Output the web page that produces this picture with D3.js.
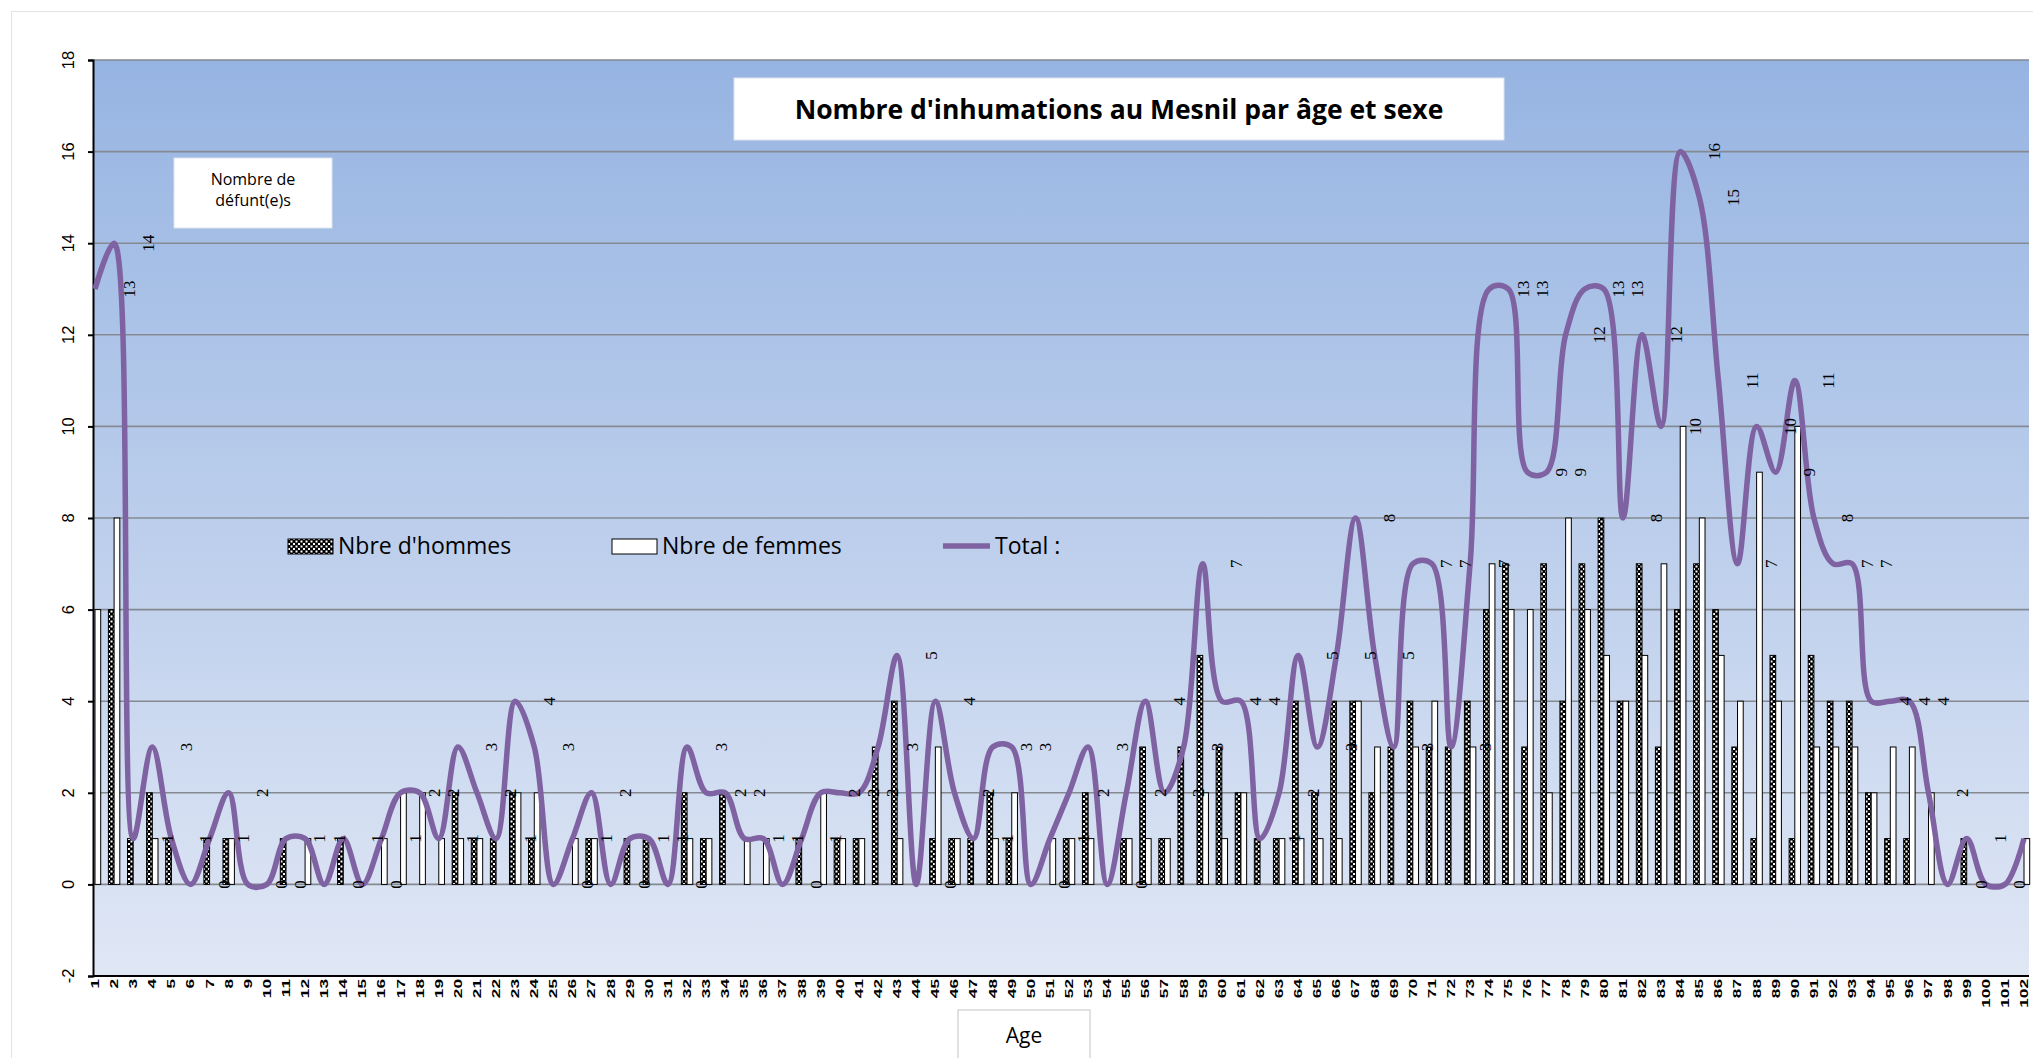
<!DOCTYPE html>
<html>
<head>
<meta charset="utf-8">
<script src="https://cdn.jsdelivr.net/npm/d3@7"></script>
<style>
    body { margin: 0; background: #fff; }
    svg { display: block; }
</style>
</head>
<body>
<div id="chart"></div>
<script>
// ages 1..102
const ages = [1, 2, 3, 4, 5, 6, 7, 8, 9, 10, 11, 12, 13, 14, 15, 16, 17, 18, 19, 20,
    21, 22, 23, 24, 25, 26, 27, 28, 29, 30, 31, 32, 33, 34, 35, 36, 37, 38, 39, 40,
    41, 42, 43, 44, 45, 46, 47, 48, 49, 50, 51, 52, 53, 54, 55, 56, 57, 58, 59, 60,
    61, 62, 63, 64, 65, 66, 67, 68, 69, 70, 71, 72, 73, 74, 75, 76, 77, 78, 79, 80,
    81, 82, 83, 84, 85, 86, 87, 88, 89, 90, 91, 92, 93, 94, 95, 96, 97, 98, 99, 100,
    101, 102];

const hommes = [0, 6, 1, 2, 1, 0, 1, 1, 0, 0,
    1, 0, 0, 1, 0, 0, 0, 0, 0, 2,
    1, 1, 2, 1, 0, 0, 1, 0, 1, 1,
    0, 2, 1, 2, 0, 0, 0, 1, 0, 1,
    1, 3, 4, 0, 1, 1, 1, 2, 1, 0,
    0, 1, 2, 0, 1, 3, 1, 3, 5, 3,
    2, 1, 1, 4, 2, 4, 4, 2, 3, 4,
    3, 3, 4, 6, 7, 3, 7, 4, 7, 8,
    4, 7, 3, 6, 7, 6, 3, 1, 5, 1,
    5, 4, 4, 2, 1, 1, 0, 0, 1, 0,
    0, 0];

const femmes = [6, 8, 0, 1, 0, 0, 0, 1, 0, 0,
    0, 1, 0, 0, 0, 1, 2, 2, 1, 1,
    1, 0, 2, 2, 0, 1, 1, 0, 0, 0,
    0, 1, 1, 0, 1, 1, 0, 0, 2, 1,
    1, 0, 1, 0, 3, 1, 0, 1, 2, 0,
    1, 1, 1, 0, 1, 1, 1, 0, 2, 1,
    2, 0, 1, 1, 1, 1, 4, 3, 0, 3,
    4, 0, 3, 7, 6, 6, 2, 8, 6, 5,
    4, 5, 7, 10, 8, 5, 4, 9, 4, 10,
    3, 3, 3, 2, 3, 3, 2, 0, 0, 0,
    0, 1];

const totaux = [13, 14, 1, 3, 1, 0, 1, 2, 0, 0,
    1, 1, 0, 1, 0, 1, 2, 2, 1, 3,
    2, 1, 4, 3, 0, 1, 2, 0, 1, 1,
    0, 3, 2, 2, 1, 1, 0, 1, 2, 2,
    2, 3, 5, 0, 4, 2, 1, 3, 3, 0,
    1, 2, 3, 0, 2, 4, 2, 3, 7, 4,
    4, 1, 2, 5, 3, 5, 8, 5, 3, 7,
    7, 3, 7, 13, 13, 9, 9, 12, 13, 13,
    8, 12, 10, 16, 15, 11, 7, 10, 9, 11,
    8, 7, 7, 4, 4, 4, 2, 0, 1, 0,
    0, 1];

const yTicks = [-2, 0, 2, 4, 6, 8, 10, 12, 14, 16, 18];

const titre = "Nombre d'inhumations au Mesnil par âge et sexe";
const legendLabels = ["Nbre d'hommes", "Nbre de femmes", "Total :"];

const width = 2033;
const height = 1058;
const plot = { left: 93, top: 60, right: 2029, bottom: 976 };
const purple = '#7f62a1';
const barW = 5.7;

const svg = d3.select('#chart').append('svg')
    .attr('width', width)
    .attr('height', height);

const defs = svg.append('defs');
const grad = defs.append('linearGradient')
    .attr('id', 'plotBg')
    .attr('x1', 0).attr('y1', 0).attr('x2', 0).attr('y2', 1);
grad.append('stop').attr('offset', '0%').attr('stop-color', '#96b4e2');
grad.append('stop').attr('offset', '100%').attr('stop-color', '#e0e7f5');

// small checker board, mostly black
const checker = defs.append('pattern')
    .attr('id', 'checker')
    .attr('patternUnits', 'userSpaceOnUse')
    .attr('width', 5).attr('height', 5);
checker.append('rect').attr('width', 5).attr('height', 5).attr('fill', '#000');
checker.append('rect').attr('x', 0.5).attr('y', 0.5).attr('width', 2).attr('height', 2).attr('fill', '#fff');
checker.append('rect').attr('x', 3).attr('y', 3).attr('width', 2).attr('height', 2).attr('fill', '#fff');

// outer chart frame (cut by the picture edges)
svg.append('rect')
    .attr('x', 11.5).attr('y', 11.5)
    .attr('width', 2100).attr('height', 1100)
    .attr('fill', '#fff')
    .attr('stroke', '#e3e3e3');

const x = d3.scalePoint()
    .domain(ages)
    .range([95, 2024]);

const y = d3.scaleLinear()
    .domain([-2, 18])
    .range([plot.bottom, plot.top]);

svg.append('rect')
    .attr('x', plot.left).attr('y', plot.top)
    .attr('width', plot.right - plot.left)
    .attr('height', plot.bottom - plot.top)
    .attr('fill', 'url(#plotBg)');

// grid
svg.append('g')
    .selectAll('line')
    .data(yTicks.filter(d => d > -2))
    .enter().append('line')
    .attr('x1', plot.left).attr('x2', plot.right)
    .attr('y1', d => y(d)).attr('y2', d => y(d))
    .attr('stroke', '#858a92')
    .attr('stroke-width', 1.6);

// y axis
const yAxis = svg.append('g')
    .attr('transform', `translate(${plot.left},0)`)
    .call(d3.axisLeft(y).tickValues(yTicks).tickSize(5).tickFormat(''));
yAxis.select('.domain').attr('stroke', '#000').attr('stroke-width', 2);
yAxis.selectAll('.tick line').attr('stroke', '#000').attr('stroke-width', 2);

svg.append('g')
    .selectAll('text')
    .data(yTicks)
    .enter().append('text')
    .attr('transform', d => `translate(68,${y(d)}) rotate(-90)`)
    .attr('text-anchor', 'middle')
    .attr('dominant-baseline', 'central')
    .style('font', '16.5px "Liberation Sans", Arial, sans-serif')
    .attr('fill', '#000')
    .text(d => d);

// x axis
svg.append('line')
    .attr('x1', plot.left).attr('x2', plot.right)
    .attr('y1', plot.bottom).attr('y2', plot.bottom)
    .attr('stroke', '#000')
    .attr('stroke-width', 2);

svg.append('g')
    .selectAll('text')
    .data(ages)
    .enter().append('text')
    .attr('transform', d => `translate(${x(d)},${plot.bottom + 3}) rotate(-90) scale(1.5,1)`)
    .attr('text-anchor', 'end')
    .attr('dominant-baseline', 'central')
    .style('font', 'bold 11.5px "Liberation Sans", Arial, sans-serif')
    .attr('fill', '#000')
    .text(d => d);

// bars
const bars = svg.append('g');
bars.selectAll('.homme')
    .data(ages.map((a, i) => ({ age: a, v: hommes[i] })).filter(d => d.v > 0))
    .enter().append('rect')
    .attr('class', 'homme')
    .attr('x', d => x(d.age) - barW)
    .attr('y', d => y(d.v))
    .attr('width', barW)
    .attr('height', d => y(0) - y(d.v))
    .attr('fill', 'url(#checker)')
    .attr('stroke', '#000')
    .attr('stroke-width', 1);

bars.selectAll('.femme')
    .data(ages.map((a, i) => ({ age: a, v: femmes[i] })).filter(d => d.v > 0))
    .enter().append('rect')
    .attr('class', 'femme')
    .attr('x', d => x(d.age))
    .attr('y', d => y(d.v))
    .attr('width', barW)
    .attr('height', d => y(0) - y(d.v))
    .attr('fill', '#fff')
    .attr('stroke', '#000')
    .attr('stroke-width', 1);

// total line
const totalData = ages.map((a, i) => ({ age: a, v: totaux[i] }));
svg.append('path')
    .datum(totalData)
    .attr('fill', 'none')
    .attr('stroke', purple)
    .attr('stroke-width', 5.5)
    .attr('stroke-linejoin', 'round')
    .attr('d', d3.line()
        .x(d => x(d.age))
        .y(d => y(d.v))
        .curve(d3.curveCatmullRom.alpha(0.5)));

// data labels of the total (those past the right edge are not in the picture)
svg.append('g')
    .selectAll('text')
    .data(totalData.filter(d => x(d.age) + 34 < width - 8))
    .enter().append('text')
    .attr('transform', d => `translate(${x(d.age) + 34},${y(d.v)}) rotate(-90)`)
    .attr('text-anchor', 'middle')
    .attr('dominant-baseline', 'central')
    .style('font', '17px "Liberation Serif", "Times New Roman", serif')
    .attr('fill', '#000')
    .text(d => d.v);

// title box
svg.append('rect')
    .attr('x', 734).attr('y', 78)
    .attr('width', 770).attr('height', 62)
    .attr('fill', '#fff')
    .attr('stroke', '#dde3ee');
svg.append('text')
    .attr('x', 1119).attr('y', 119)
    .attr('text-anchor', 'middle')
    .style('font', 'bold 26.5px "Open Sans", sans-serif')
    .attr('fill', '#000')
    .text(titre);

// y axis title box
svg.append('rect')
    .attr('x', 174).attr('y', 158)
    .attr('width', 158).attr('height', 70)
    .attr('fill', '#fff')
    .attr('stroke', '#dde3ee');
svg.append('text')
    .attr('x', 253).attr('y', 185)
    .attr('text-anchor', 'middle')
    .style('font', '16px "Open Sans", sans-serif')
    .text('Nombre de');
svg.append('text')
    .attr('x', 253).attr('y', 206)
    .attr('text-anchor', 'middle')
    .style('font', '16px "Open Sans", sans-serif')
    .text('défunt(e)s');

// legend
const legend = svg.append('g').style('font', '23px "Open Sans", sans-serif');
legend.append('rect')
    .attr('x', 288).attr('y', 539).attr('width', 45).attr('height', 15)
    .attr('fill', 'url(#checker)').attr('stroke', '#000');
legend.append('text').attr('x', 338).attr('y', 554).text(legendLabels[0]);
legend.append('rect')
    .attr('x', 612).attr('y', 539).attr('width', 45).attr('height', 15)
    .attr('fill', '#fff').attr('stroke', '#000');
legend.append('text').attr('x', 662).attr('y', 554).text(legendLabels[1]);
legend.append('line')
    .attr('x1', 943).attr('x2', 990).attr('y1', 546).attr('y2', 546)
    .attr('stroke', purple).attr('stroke-width', 5.5);
legend.append('text').attr('x', 995).attr('y', 554).text(legendLabels[2]);

// x axis title box
svg.append('rect')
    .attr('x', 958).attr('y', 1010)
    .attr('width', 132).attr('height', 50)
    .attr('fill', '#fff')
    .attr('stroke', '#c4c4c4');
svg.append('text')
    .attr('x', 1024).attr('y', 1043)
    .attr('text-anchor', 'middle')
    .style('font', '21px "Open Sans", sans-serif')
    .text('Age');
</script>
</body>
</html>
